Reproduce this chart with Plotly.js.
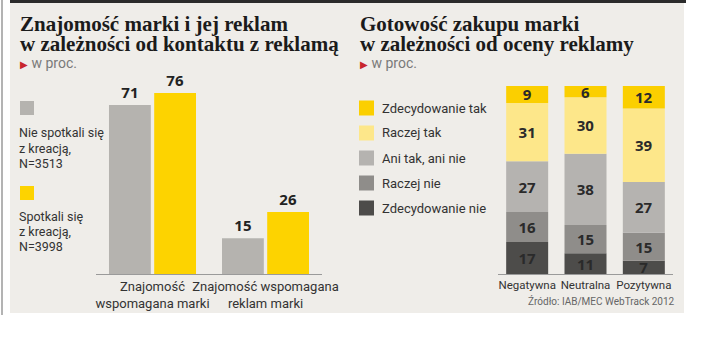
<!DOCTYPE html>
<html><head><meta charset="utf-8">
<script src="https://cdn.plot.ly/plotly-3.0.1.min.js"></script>
<style>html,body{margin:0;padding:0;background:#fff;}#chart{width:704px;height:340px;}</style>
</head><body><div id="chart"></div>
<script>
// ---- data ----
const leftCategories = ['Znajomość<br>wspomagana marki', 'Znajomość wspomagana<br>reklam marki'];
const leftSeriesNames = ['Nie spotkali się<br>z kreacją,<br>N=3513', 'Spotkali się<br>z kreacją,<br>N=3998'];
const leftNotMet = [71, 15];
const leftMet = [76, 26];

const rightCategories = ['Negatywna', 'Neutralna', 'Pozytywna'];
const rightSeriesNames = ['Zdecydowanie nie', 'Raczej nie', 'Ani tak, ani nie', 'Raczej tak', 'Zdecydowanie tak'];
const definitelyNo = [17, 11, 7];
const ratherNo = [16, 15, 15];
const neither = [27, 38, 27];
const ratherYes = [31, 30, 39];
const definitelyYes = [9, 6, 12];

// ---- helpers ----
const W = 704, H = 340;
const px = x => x / W;
const py = y => 1 - y / H;
const SANS = 'Roboto, Open Sans, sans-serif';
const BOLD = 'Open Sans, Roboto, sans-serif';
const SERIF = 'Liberation Serif, DejaVu Serif, serif';

const leftColors = ['#b5b3af', '#fdd300'];
const rightColors = ['#4d4c4a', '#8f8d8a', '#b5b3b0', '#fde78a', '#fbcf00'];
const rightTextColors = ['#2a2a2a', '#2a2a2a', '#2a2a2a', '#2a2a2a', '#2a2a2a'];

const traces = [];
// left grouped bars (overlay with offsets)
[leftNotMet, leftMet].forEach((vals, i) => {
  traces.push({
    type: 'bar', x: leftCategories, y: vals, xaxis: 'x', yaxis: 'y',
    width: 0.37, offset: i === 0 ? -0.385 : 0.015,
    marker: {color: leftColors[i], line: {width: 0}},
    text: vals.map(String), textposition: 'outside', cliponaxis: false,
    textfont: {family: BOLD, size: 15, color: '#222', weight: 700},
    showlegend: false, hoverinfo: 'skip'
  });
});
// right stacked bars using cumulative bases
const rightSeries = [definitelyNo, ratherNo, neither, ratherYes, definitelyYes];
let cumulative = rightCategories.map(() => 0);
rightSeries.forEach((vals, i) => {
  const base = cumulative.slice();
  traces.push({
    type: 'bar', x: rightCategories, y: vals, base: base, xaxis: 'x2', yaxis: 'y2',
    width: 0.72,
    marker: {color: rightColors[i], line: {width: 0}},
    text: vals.map(String), textposition: 'inside', insidetextanchor: 'middle', textangle: 0,
    constraintext: 'none',
    textfont: {family: BOLD, size: 15, color: rightTextColors[i], weight: 700},
    showlegend: false, hoverinfo: 'skip'
  });
  cumulative = cumulative.map((c, k) => c + vals[k]);
});

// ---- decorations ----
const shapes = [
  {type: 'rect', xref: 'paper', yref: 'paper', x0: px(10), x1: px(684), y0: py(313), y1: py(3), fillcolor: '#efede9', line: {width: 0}, layer: 'below'},
  {type: 'rect', xref: 'paper', yref: 'paper', x0: px(10), x1: px(686), y0: py(3), y1: py(0), fillcolor: '#2b2b2b', line: {width: 0}, layer: 'below'},
  {type: 'rect', xref: 'paper', yref: 'paper', x0: px(1), x1: px(3), y0: py(315), y1: py(0), fillcolor: '#b3b3b3', line: {width: 0}, layer: 'below'}
];
const annotations = [];
function txt(x, y, text, size, opts) {
  annotations.push(Object.assign({xref: 'paper', yref: 'paper', x: px(x), y: py(y), text: text, showarrow: false,
    xanchor: 'left', yanchor: 'middle', align: 'left', font: {family: SANS, size: size, color: '#333'}}, opts || {}));
}
// titles
const titleFont = {family: SERIF, size: 21, color: '#1b1b1b', weight: 700};
txt(18, 24, 'Znajomość marki i jej reklam', 21, {font: titleFont});
txt(18, 44, 'w zależności od kontaktu z reklamą', 21, {font: titleFont});
txt(358, 24, 'Gotowość zakupu marki', 21, {font: titleFont});
txt(358, 44, 'w zależności od oceny reklamy', 21, {font: titleFont});
const sub = '<span style="color:#c8262d;font-size:10px">▶</span> w proc.';
txt(18, 63, sub, 14, {font: {family: SANS, size: 14, color: '#7a7a7a'}});
txt(358, 63, sub, 14, {font: {family: SANS, size: 14, color: '#7a7a7a'}});

// left legend (each line placed separately for tight leading)
const leftLegendSquares = [101, 186];
const leftLegendFirstLine = [133, 216];
leftSeriesNames.forEach((name, i) => {
  shapes.push({type: 'rect', xref: 'paper', yref: 'paper', x0: px(20), x1: px(34), y0: py(leftLegendSquares[i] + 14), y1: py(leftLegendSquares[i]), fillcolor: leftColors[i], line: {width: 0}});
  name.split('<br>').forEach((line, k) => {
    txt(17, leftLegendFirstLine[i] + k * 15, line, 12.5, {font: {family: SANS, size: 12.5, color: '#333'}});
  });
});
// right legend (top item first)
rightSeriesNames.slice().reverse().forEach((name, j) => {
  const i = rightSeriesNames.length - 1 - j;
  const cy = 108 + j * 25;
  shapes.push({type: 'rect', xref: 'paper', yref: 'paper', x0: px(359), x1: px(374), y0: py(cy + 7.5), y1: py(cy - 7.5), fillcolor: rightColors[i], line: {width: 0}});
  txt(380, cy, name, 13, {font: {family: SANS, size: 13, color: '#333'}});
});
// source
txt(677, 301, 'Źródło: IAB/MEC WebTrack 2012', 10, {xanchor: 'right', font: {family: SANS, size: 10, color: '#666'}});

const axisCommon = {showgrid: false, zeroline: false, ticks: '', fixedrange: true, tickangle: 0, automargin: false};
const layout = {
  width: W, height: H, margin: {l: 0, r: 0, t: 0, b: 0},
  paper_bgcolor: '#ffffff', plot_bgcolor: 'rgba(0,0,0,0)',
  barmode: 'overlay', showlegend: false,
  uniformtext: {mode: 'show', minsize: 15},
  xaxis: Object.assign({}, axisCommon, {domain: [px(96), px(322)], range: [-0.5, 1.5], type: 'category',
    showline: true, linecolor: '#9a9a9a', linewidth: 1, tickfont: {family: SANS, size: 13, color: '#333'}, anchor: 'y'}),
  yaxis: Object.assign({}, axisCommon, {domain: [py(274), py(274 - 80 * 2.38)], range: [0, 80], showticklabels: false, anchor: 'x'}),
  xaxis2: Object.assign({}, axisCommon, {domain: [px(498), px(673)], range: [-0.5, 2.5], type: 'category',
    showline: true, linecolor: '#9a9a9a', linewidth: 1, tickfont: {family: SANS, size: 11.5, color: '#333'}, anchor: 'y2'}),
  yaxis2: Object.assign({}, axisCommon, {domain: [py(274), py(86)], range: [0, 100], showticklabels: false, anchor: 'x2'}),
  shapes: shapes, annotations: annotations
};
Plotly.newPlot('chart', traces, layout, {displayModeBar: false, staticPlot: true});
</script></body></html>
